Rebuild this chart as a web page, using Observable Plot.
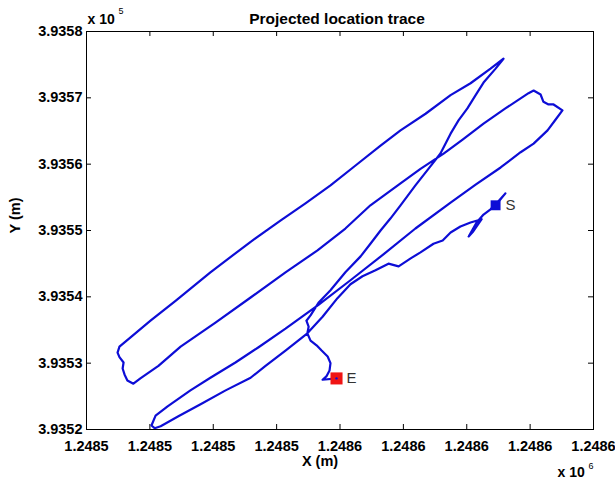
<!DOCTYPE html>
<html>
<head>
<meta charset="utf-8">
<script src="https://cdn.jsdelivr.net/npm/d3@7"></script>
<script src="https://cdn.jsdelivr.net/npm/@observablehq/plot@0.6"></script>
<style>
  html, body { margin: 0; padding: 0; background: #fff; }
</style>
</head>
<body>
<div id="chart"></div>
<script>
// Projected GPS trace (metres), from the start S to the end E.
const traceX = [
  1248609.1, 1248612.2, 1248610.0, 1248607.5, 1248605.3, 1248603.1, 1248600.6, 1248602.1, 1248604.7,
  1248601.2, 1248598.0, 1248594.9, 1248592.4, 1248589.5, 1248585.4, 1248582.3, 1248578.5, 1248575.3,
  1248571.2, 1248567.1, 1248563.3, 1248559.2, 1248554.5, 1248549.7, 1248542.8, 1248536.5, 1248531.8,
  1248523.9, 1248516.0, 1248509.0, 1248503.4, 1248501.5,
  1248500.5, 1248501.8, 1248505.6, 1248512.8, 1248519.1, 1248527.0, 1248534.3, 1248542.8, 1248553.2,
  1248563.3, 1248573.7, 1248583.8, 1248594.9, 1248602.8, 1248610.7, 1248617.0, 1248621.1, 1248625.5,
  1248628.0, 1248630.2, 1248627.4, 1248625.8, 1248624.2, 1248623.3, 1248621.1, 1248619.5,
  1248612.2, 1248605.3, 1248598.7, 1248592.7, 1248585.4, 1248579.1, 1248569.6, 1248561.7, 1248552.9,
  1248542.8, 1248531.8, 1248520.7, 1248509.7, 1248502.7, 1248497.0, 1248494.8,
  1248492.9, 1248492.0, 1248491.4, 1248491.7, 1248490.4, 1248489.8, 1248490.4,
  1248493.9, 1248500.2, 1248508.1, 1248519.1, 1248531.8, 1248541.2, 1248549.1, 1248557.0, 1248564.9,
  1248572.8, 1248579.1, 1248587.0, 1248594.9, 1248601.2, 1248607.5, 1248611.6,
  1248609.1, 1248605.3, 1248602.8, 1248600.2, 1248597.4, 1248594.9, 1248591.7, 1248587.9, 1248583.8,
  1248579.1, 1248575.9, 1248572.8, 1248569.6, 1248566.5, 1248561.7, 1248557.0, 1248553.2, 1248550.7,
  1248549.4, 1248550.1, 1248549.7, 1248550.7, 1248552.6, 1248554.2, 1248556.1, 1248557.0, 1248556.7,
  1248555.7, 1248554.5, 1248558.9
];
const traceY = [
  393553.8, 393555.6, 393554.4, 393553.2, 393552.4, 393551.2, 393549.1, 393549.9, 393551.7,
  393551.2, 393550.6, 393549.7, 393548.5, 393548.0, 393546.7, 393545.8, 393544.6, 393545.0,
  393544.0, 393543.1, 393541.9, 393539.8, 393537.0, 393534.5, 393531.9, 393529.6, 393527.8,
  393525.9, 393523.8, 393522.0, 393520.5, 393520.2,
  393520.6, 393522.1, 393523.5, 393525.9, 393527.8, 393530.1, 393532.4, 393535.2, 393538.8,
  393542.5, 393546.4, 393550.3, 393554.2, 393556.9, 393559.5, 393561.8, 393563.1, 393565.1,
  393566.7, 393568.1, 393569.0, 393569.0, 393569.4, 393570.5, 393571.1, 393570.7,
  393568.4, 393566.1, 393563.7, 393561.6, 393559.3, 393557.1, 393553.8, 393550.3, 393547.0,
  393543.7, 393539.9, 393536.1, 393532.5, 393529.6, 393527.7, 393526.9,
  393527.4, 393528.3, 393529.2, 393530.1, 393530.9, 393531.6, 393532.5,
  393533.9, 393536.4, 393539.4, 393543.7, 393548.3, 393551.5, 393554.1, 393556.8, 393559.8,
  393562.8, 393565.1, 393567.6, 393570.4, 393572.2, 393574.4, 393575.9,
  393574.4, 393572.3, 393570.4, 393568.4, 393566.6, 393564.6, 393561.6, 393559.3, 393556.8,
  393553.8, 393551.8, 393550.0, 393548.0, 393546.1, 393543.7, 393541.0, 393539.1, 393537.2,
  393536.4, 393535.5, 393534.5, 393533.4, 393532.7, 393531.9, 393531.0, 393530.0, 393528.9,
  393528.0, 393527.5, 393527.7
];

// Axis ticks and their printed labels (scaled by 10^6 and 10^5)
const xTicks = [1248480, 1248500, 1248520, 1248540, 1248560, 1248580, 1248600, 1248620, 1248640];
const xTickLabels = ["1.2485", "1.2485", "1.2485", "1.2485", "1.2486", "1.2486", "1.2486", "1.2486", "1.2486"];
const yTicks = [393520, 393530, 393540, 393550, 393560, 393570, 393580];
const yTickLabels = ["3.9352", "3.9353", "3.9354", "3.9355", "3.9356", "3.9357", "3.9358"];

const trace = traceX.map((x, i) => ({x, y: traceY[i]}));
const startPt = {...trace[0], name: "S"};
const endPt = {...trace[trace.length - 1], name: "E"};

const xLabel = new Map(xTicks.map((v, i) => [v, xTickLabels[i]]));
const yLabel = new Map(yTicks.map((v, i) => [v, yTickLabels[i]]));

const W = 615, H = 485;
const mL = 86, mR = 22, mT = 31, mB = 56;
const innerW = W - mL - mR, innerH = H - mT - mB;
const font = "'Liberation Sans', Arial, Helvetica, sans-serif";
const lineBlue = "#0d0dd6";

const chart = Plot.plot({
  width: W,
  height: H,
  marginLeft: mL,
  marginRight: mR,
  marginTop: mT,
  marginBottom: mB,
  style: {fontFamily: font, background: "#fff", color: "#000", overflow: "visible"},
  x: {domain: [1248480, 1248640]},
  y: {domain: [393520, 393580]},
  marks: [
    // inward ticks on all four sides
    Plot.tickX(xTicks, {x: d => d, insetTop: innerH - 5, stroke: "#000"}),
    Plot.tickX(xTicks, {x: d => d, insetBottom: innerH - 5, stroke: "#000"}),
    Plot.tickY(yTicks, {y: d => d, insetRight: innerW - 5, stroke: "#000"}),
    Plot.tickY(yTicks, {y: d => d, insetLeft: innerW - 5, stroke: "#000"}),
    Plot.axisX({ticks: xTicks, tickFormat: d => xLabel.get(d), tickSize: 0, tickPadding: 11,
      fontSize: 14.5, fontWeight: "bold", label: null}),
    Plot.axisY({ticks: yTicks, tickFormat: d => yLabel.get(d), tickSize: 0, tickPadding: 4,
      fontSize: 14.5, fontWeight: "bold", label: null}),
    // the trace
    Plot.line(trace, {x: "x", y: "y", stroke: lineBlue, strokeWidth: 2.2, strokeLinejoin: "round"}),
    // start and end markers
    Plot.dot([startPt], {x: "x", y: "y", symbol: "square", r: 5.6, fill: lineBlue}),
    Plot.dot([endPt], {x: "x", y: "y", symbol: "square", r: 6.8, fill: "#f01414"}),
    Plot.dot([endPt], {x: "x", y: "y", r: 1.2, fill: lineBlue}),
    Plot.text([startPt, endPt], {x: "x", y: "y", text: "name", dx: 10, textAnchor: "start",
      fontSize: 15, fill: "#333", fontFamily: font}),
    Plot.frame({stroke: "#000"}),
    // titles and axis labels
    Plot.text(["Projected location trace"], {frameAnchor: "top", dx: -3, dy: -19, fontSize: 15.5,
      fontWeight: "bold", fontFamily: font, fill: "#000"}),
    Plot.text(["X (m)"], {frameAnchor: "bottom", dx: -20, dy: 36, fontSize: 14.5,
      fontWeight: "bold", fontFamily: font, fill: "#000"}),
    Plot.text(["Y (m)"], {frameAnchor: "left", dx: -71, dy: 3, rotate: -90, fontSize: 14.5,
      fontWeight: "bold", fontFamily: font, fill: "#000"}),
    // exponent notes
    Plot.text(["x 10"], {frameAnchor: "top-left", dx: 1, dy: -17, textAnchor: "start", fontSize: 14,
      fontWeight: "bold", fontFamily: font, fill: "#000"}),
    Plot.text(["5"], {frameAnchor: "top-left", dx: 32, dy: -24, textAnchor: "start", fontSize: 9,
      fontFamily: font, fill: "#000"}),
    Plot.text(["x 10"], {frameAnchor: "bottom-right", dx: -36, dy: 47, textAnchor: "start", fontSize: 14,
      fontWeight: "bold", fontFamily: font, fill: "#000"}),
    Plot.text(["6"], {frameAnchor: "bottom-right", dx: -5, dy: 39, textAnchor: "start", fontSize: 9,
      fontFamily: font, fill: "#000"})
  ]
});

document.getElementById("chart").appendChild(chart);
</script>
</body>
</html>
